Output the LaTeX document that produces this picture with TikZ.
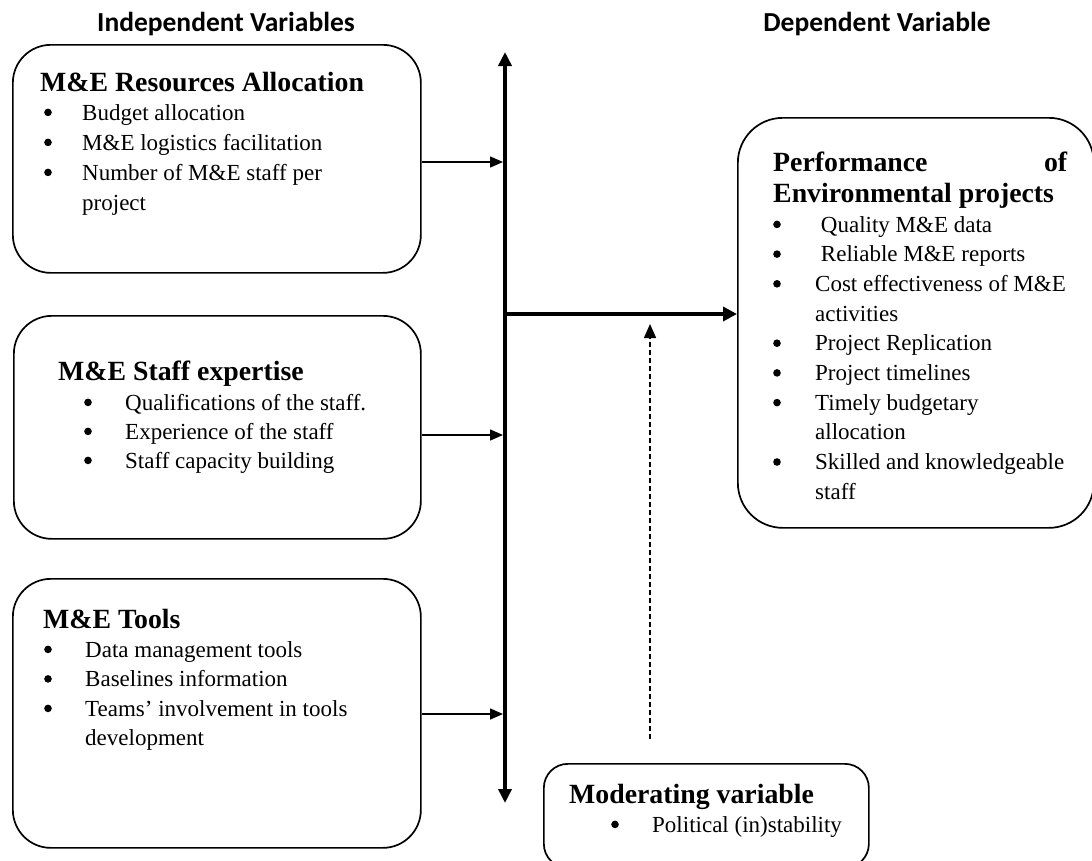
\documentclass[tikz,border=0pt]{standalone}
\usepackage{fontspec}
\setmainfont{Liberation Serif}
\newfontfamily\headfont{Carlito}
\usetikzlibrary{arrows.meta}
\newcommand\itm[5]{\node[bul] (#1-b) at (#2,{#4-7.6}) {}; \node[tx] (#1) at (#3,#4) {#5};}
\begin{document}
\begin{tikzpicture}[x=1pt,y=-1pt,
  box/.style={draw, line width=1.7pt, rounded corners=38pt, anchor=north west, inner sep=0pt},
  tx/.style={anchor=base west, inner sep=0pt, font=\fontsize{23}{27}\selectfont},
  bul/.style={circle, fill, inner sep=0pt, minimum size=7.6pt},
  ttl/.style={anchor=base west, inner sep=0pt, font=\fontsize{27.8}{32}\selectfont\bfseries},
  head/.style={anchor=base, inner sep=0pt, font=\headfont\fontsize{27.5}{32}\selectfont\bfseries},
  thin/.style={line width=1.5pt, -{Triangle[length=13pt,width=11pt]}},
  thick/.style={line width=4pt},
  dsh/.style={line width=1.4pt, dash pattern=on 5pt off 3pt, -{Triangle[length=14pt,width=12pt]}}
]
\useasboundingbox (0,0) rectangle (1092,860);
% headings
\node[head] (hind) at (226,31) {Independent Variables};
\node[head] (hdep) at (877,31) {Dependent Variable};
% boxes
\node[box, minimum width=408pt, minimum height=228pt] (b1) at (12,44) {};
\node[box, minimum width=407pt, minimum height=223pt] (b2) at (13,315) {};
\node[box, minimum width=408pt, minimum height=269pt] (b3) at (12,578) {};
\node[box, rounded corners=45pt, minimum width=356pt, minimum height=410pt] (dv) at (737,117) {};
\node[box, rounded corners=24pt, minimum width=325pt, minimum height=104pt] (mv) at (543,763) {};
% box 1 text
\node[ttl] (b1-t) at (40,91) {M\&E Resources Allocation};
\itm{b1-1}{48}{82}{120}{Budget allocation}
\itm{b1-2}{48}{82}{150}{M\&E logistics facilitation}
\itm{b1-3}{48}{82}{180}{Number of M\&E staff per}
\node[tx] (b1-3b) at (82,210) {project};
% box 2 text
\node[ttl] (b2-t) at (58,380) {M\&E Staff expertise};
\itm{b2-1}{88}{125}{410}{Qualifications of the staff.}
\itm{b2-2}{88}{125}{439}{Experience of the staff}
\itm{b2-3}{88}{125}{468}{Staff capacity building}
% box 3 text
\node[ttl] (b3-t) at (43,628) {M\&E Tools};
\itm{b3-1}{48}{85}{657}{Data management tools}
\itm{b3-2}{48}{85}{686.5}{Baselines information}
\itm{b3-3}{48}{85}{716}{Teams’ involvement in tools}
\node[tx] (b3-3b) at (85,745) {development};
% dependent box text
\node[ttl] (dv-t1) at (773,171) {\makebox[294pt][l]{Performance\hfill of}};
\node[ttl] (dv-t2) at (773,202) {Environmental projects};
\itm{dv-1}{777}{815}{232}{\ Quality M\&E data}
\itm{dv-2}{777}{815}{261.7}{\ Reliable M\&E reports}
\itm{dv-3}{777}{815}{291.4}{Cost effectiveness of M\&E}
\node[tx] (dv-3b) at (815,321.1) {activities};
\itm{dv-4}{777}{815}{350.8}{Project Replication}
\itm{dv-5}{777}{815}{380.5}{Project timelines}
\itm{dv-6}{777}{815}{410.2}{Timely budgetary}
\node[tx] (dv-6b) at (815,439.9) {allocation};
\itm{dv-7}{777}{815}{469.6}{Skilled and knowledgeable}
\node[tx] (dv-7b) at (815,499.3) {staff};
% moderating box text
\node[ttl] (mv-t) at (569,803) {Moderating variable};
\itm{mv-1}{615}{652}{832}{Political (in)stability}
% connectors
\coordinate (vtop) at (505,52);
\coordinate (vbot) at (505,803);
\draw[thick, {Triangle[length=14pt,width=13pt]}-{Triangle[length=14pt,width=13pt]}] (vtop) -- (vbot);
\coordinate (j1) at (503,162);
\coordinate (j2) at (503,435);
\coordinate (j3) at (503,714);
\draw[thin] (b1.east |- j1) -- (j1);
\draw[thin] (b2.east |- j2) -- (j2);
\draw[thin] (b3.east |- j3) -- (j3);
\coordinate (hs) at (503,314);
\draw[thick, -{Triangle[length=14pt,width=14pt]}] (hs) -- (hs -| dv.west);
\coordinate (dbot) at (650,739);
\coordinate (dtop) at (650,324);
\draw[dsh] (dbot) -- (dtop);
\end{tikzpicture}
\end{document}
